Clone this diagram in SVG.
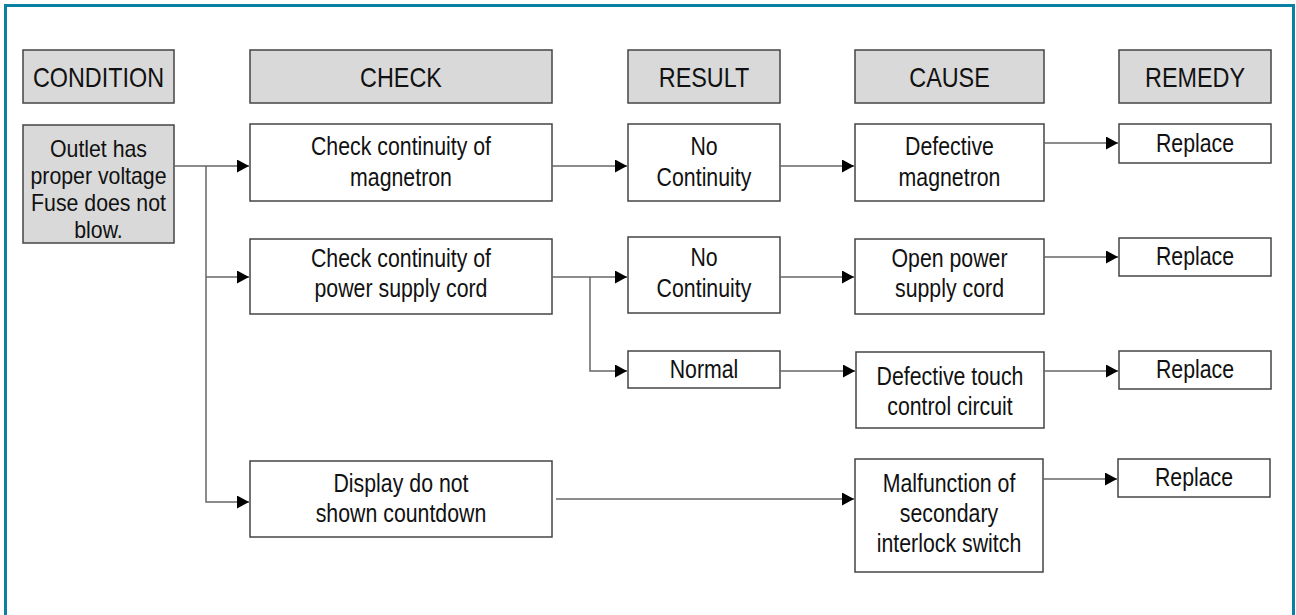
<svg xmlns="http://www.w3.org/2000/svg" width="1296" height="615" viewBox="0 0 1296 615">
<defs>
<marker id="ah" markerUnits="userSpaceOnUse" markerWidth="13" markerHeight="14" refX="12" refY="6.5" orient="auto">
<path d="M0,0 L12,6.5 L0,13 Z" fill="#000"/>
</marker>
<style>
.hd{fill:#d9d9d9;stroke:#444;stroke-width:1.5}
.bx{fill:#fff;stroke:#444;stroke-width:1.5}
.gb{fill:#d9d9d9;stroke:#444;stroke-width:1.5}
text{font-family:"Liberation Sans",Arial,sans-serif;fill:#111;text-anchor:middle}
.ht{font-size:28.5px}
.t{font-size:26px}
.tc{font-size:23.4px}
.cn{fill:none;stroke:#666;stroke-width:1.5}
</style>
</defs>
<rect x="5.5" y="5.5" width="1288" height="660" fill="#fff" stroke="#0a80a3" stroke-width="3"/>

<g id="h-condition"><rect class="hd" x="23" y="50" width="151" height="53"/><text class="ht" transform="translate(98.5 87) scale(0.82 1)">CONDITION</text></g>
<g id="h-check"><rect class="hd" x="250" y="50" width="302" height="53"/><text class="ht" transform="translate(401 87) scale(0.82 1)">CHECK</text></g>
<g id="h-result"><rect class="hd" x="628" y="50" width="152" height="53"/><text class="ht" transform="translate(704 87) scale(0.82 1)">RESULT</text></g>
<g id="h-cause"><rect class="hd" x="855" y="50" width="189" height="53"/><text class="ht" transform="translate(949.5 87) scale(0.82 1)">CAUSE</text></g>
<g id="h-remedy"><rect class="hd" x="1119" y="50" width="152" height="53"/><text class="ht" transform="translate(1195 87) scale(0.82 1)">REMEDY</text></g>

<g id="condition"><rect class="gb" x="23" y="125" width="151" height="118"/>
<text class="tc" transform="translate(98.5 0) scale(0.91 1)"><tspan x="0" y="157.5">Outlet has</tspan><tspan x="0" y="184.5">proper voltage</tspan><tspan x="0" y="211.5">Fuse does not</tspan><tspan x="0" y="238.5">blow.</tspan></text></g>

<g id="check1"><rect class="bx" x="250" y="124" width="302" height="77"/>
<text class="t" transform="translate(401 0) scale(0.82 1)"><tspan x="0" y="155">Check continuity of</tspan><tspan x="0" y="186">magnetron</tspan></text></g>
<g id="result1"><rect class="bx" x="628" y="124" width="152" height="77"/>
<text class="t" transform="translate(704 0) scale(0.82 1)"><tspan x="0" y="155">No</tspan><tspan x="0" y="186">Continuity</tspan></text></g>
<g id="cause1"><rect class="bx" x="855" y="124" width="189" height="77"/>
<text class="t" transform="translate(949.5 0) scale(0.82 1)"><tspan x="0" y="155">Defective</tspan><tspan x="0" y="186">magnetron</tspan></text></g>
<g id="remedy1"><rect class="bx" x="1119" y="124" width="152" height="39"/>
<text class="t" transform="translate(1195 152) scale(0.82 1)">Replace</text></g>

<g id="check2"><rect class="bx" x="250" y="239" width="302" height="75"/>
<text class="t" transform="translate(401 0) scale(0.82 1)"><tspan x="0" y="267">Check continuity of</tspan><tspan x="0" y="297">power supply cord</tspan></text></g>
<g id="result2"><rect class="bx" x="628" y="237" width="152" height="76"/>
<text class="t" transform="translate(704 0) scale(0.82 1)"><tspan x="0" y="266">No</tspan><tspan x="0" y="297">Continuity</tspan></text></g>
<g id="cause2"><rect class="bx" x="855" y="239" width="189" height="75"/>
<text class="t" transform="translate(949.5 0) scale(0.82 1)"><tspan x="0" y="267">Open power</tspan><tspan x="0" y="297">supply cord</tspan></text></g>
<g id="remedy2"><rect class="bx" x="1119" y="238" width="152" height="38"/>
<text class="t" transform="translate(1195 265) scale(0.82 1)">Replace</text></g>

<g id="result3"><rect class="bx" x="628" y="351" width="152" height="37"/>
<text class="t" transform="translate(704 378) scale(0.82 1)">Normal</text></g>
<g id="cause3"><rect class="bx" x="856" y="352" width="188" height="76"/>
<text class="t" transform="translate(950 0) scale(0.82 1)"><tspan x="0" y="385">Defective touch</tspan><tspan x="0" y="415">control circuit</tspan></text></g>
<g id="remedy3"><rect class="bx" x="1119" y="351" width="152" height="38"/>
<text class="t" transform="translate(1195 378) scale(0.82 1)">Replace</text></g>

<g id="check4"><rect class="bx" x="250" y="461" width="302" height="76"/>
<text class="t" transform="translate(401 0) scale(0.82 1)"><tspan x="0" y="492">Display do not</tspan><tspan x="0" y="522">shown countdown</tspan></text></g>
<g id="cause4"><rect class="bx" x="855" y="459" width="188" height="113"/>
<text class="t" transform="translate(949 0) scale(0.82 1)"><tspan x="0" y="492">Malfunction of</tspan><tspan x="0" y="522">secondary</tspan><tspan x="0" y="552">interlock switch</tspan></text></g>
<g id="remedy4"><rect class="bx" x="1118" y="459" width="152" height="38"/>
<text class="t" transform="translate(1194 486) scale(0.82 1)">Replace</text></g>

<g id="connectors">
<path class="cn" d="M174,166 H249" marker-end="url(#ah)"/>
<path class="cn" d="M206,166 V502 H249" marker-end="url(#ah)"/>
<path class="cn" d="M206,277 H249" marker-end="url(#ah)"/>
<path class="cn" d="M552,166 H627" marker-end="url(#ah)"/>
<path class="cn" d="M780,166 H854" marker-end="url(#ah)"/>
<path class="cn" d="M1044,143 H1118" marker-end="url(#ah)"/>
<path class="cn" d="M552,277 H627" marker-end="url(#ah)"/>
<path class="cn" d="M590,277 V371 H627" marker-end="url(#ah)"/>
<path class="cn" d="M780,277 H854" marker-end="url(#ah)"/>
<path class="cn" d="M1044,257 H1118" marker-end="url(#ah)"/>
<path class="cn" d="M780,371 H855" marker-end="url(#ah)"/>
<path class="cn" d="M1044,371 H1118" marker-end="url(#ah)"/>
<path class="cn" d="M556,499 H854" marker-end="url(#ah)"/>
<path class="cn" d="M1043,479 H1117" marker-end="url(#ah)"/>
</g>
</svg>
